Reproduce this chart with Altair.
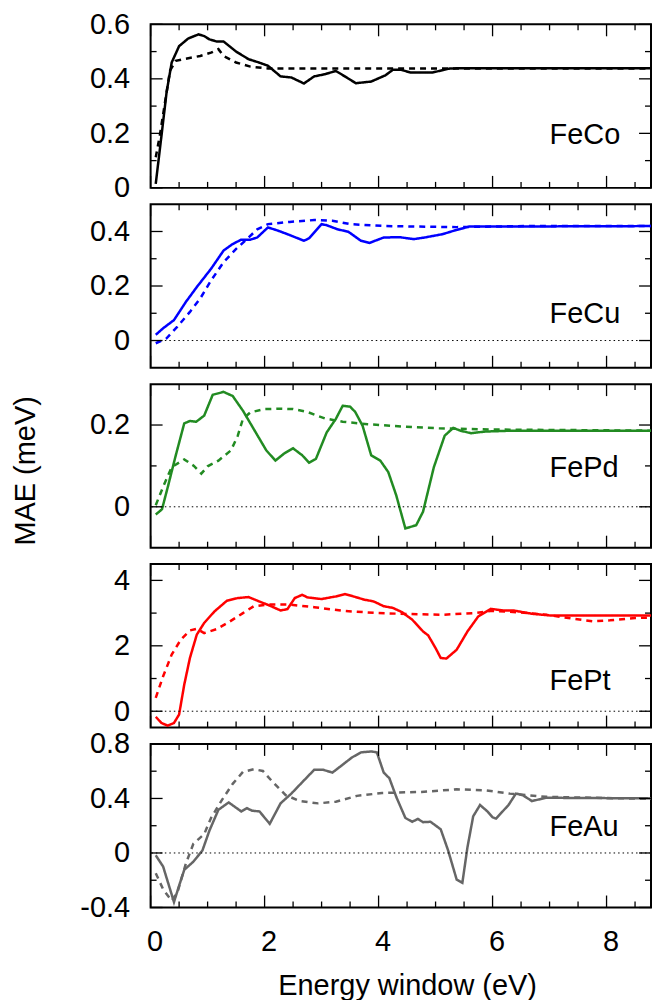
import altair as alt
import pandas as pd

FONT = "Liberation Sans"
FS = 29
PX_PER_EV = 57.15
XMAX = 8.78            # visible part of the 0..9 eV axis that fits the page
W = XMAX * PX_PER_EV
H = 164

# ---------------- data ----------------
x_major = [0, 2, 4, 6, 8]
x_minor = [0.5, 1, 1.5, 2.5, 3, 3.5, 4.5, 5, 5.5, 6.5, 7, 7.5, 8.5]

panel_names = ["FeCo", "FeCu", "FePd", "FePt", "FeAu"]
panel_colors = ["#000000", "#0000ff", "#228b22", "#ff0000", "#666666"]

feco_solid_e = [0.09, 0.19, 0.28, 0.37, 0.5, 0.66, 0.84, 0.94, 1.03, 1.16, 1.28, 1.5, 1.72, 1.9, 2.06,
                2.28, 2.47, 2.69, 2.87, 3.06, 3.25, 3.44, 3.6, 3.87, 4.12, 4.25, 4.4, 4.56, 4.94, 5.25, 5.5, 9.0]
feco_solid_v = [0.015, 0.19, 0.35, 0.46, 0.52, 0.548, 0.563, 0.557, 0.545, 0.537, 0.537, 0.50, 0.472, 0.46, 0.448,
                0.409, 0.405, 0.383, 0.409, 0.417, 0.429, 0.405, 0.384, 0.39, 0.413, 0.433, 0.433, 0.423, 0.423, 0.438, 0.439, 0.439]
feco_dash_e = [0.09, 0.16, 0.25, 0.34, 0.44, 0.62, 0.87, 1.06, 1.19, 1.28, 1.5, 1.75, 2.06, 9.0]
feco_dash_v = [0.112, 0.19, 0.31, 0.43, 0.466, 0.474, 0.484, 0.496, 0.509, 0.484, 0.46, 0.445, 0.438, 0.438]

fecu_solid_e = [0.09, 0.22, 0.41, 0.62, 0.81, 1.06, 1.28, 1.44, 1.59, 1.75, 1.87, 2.06, 2.25, 2.44, 2.69, 2.78,
                3.0, 3.09, 3.28, 3.47, 3.69, 3.84, 4.09, 4.37, 4.62, 4.81, 5.12, 5.37, 5.59, 6.0, 9.0]
fecu_solid_v = [0.021, 0.045, 0.075, 0.142, 0.196, 0.263, 0.33, 0.354, 0.37, 0.37, 0.378, 0.415, 0.402, 0.387, 0.366, 0.375,
                0.427, 0.423, 0.408, 0.399, 0.366, 0.358, 0.378, 0.379, 0.372, 0.378, 0.39, 0.406, 0.418, 0.418, 0.42]
fecu_dash_e = [0.09, 0.28, 0.47, 0.69, 0.87, 1.06, 1.28, 1.5, 1.69, 1.87, 2.06, 2.44, 2.87, 3.19, 3.5, 4.12, 5.37, 6.6, 9.0]
fecu_dash_v = [-0.01, 0.008, 0.051, 0.105, 0.154, 0.22, 0.287, 0.336, 0.372, 0.408, 0.427, 0.435, 0.442, 0.439, 0.427, 0.42, 0.416, 0.42, 0.42]

fepd_solid_e = [0.09, 0.2, 0.31, 0.44, 0.59, 0.69, 0.8, 0.94, 1.09, 1.28, 1.44, 1.62, 1.81, 2.03, 2.19, 2.34, 2.5,
                2.66, 2.78, 2.9, 3.09, 3.25, 3.37, 3.5, 3.59, 3.72, 3.87, 4.03, 4.17, 4.31, 4.47, 4.66, 4.78, 4.97,
                5.16, 5.31, 5.44, 5.62, 5.87, 6.3, 9.0]
fepd_solid_v = [-0.019, -0.006, 0.053, 0.125, 0.204, 0.21, 0.208, 0.223, 0.274, 0.281, 0.271, 0.235, 0.19, 0.138, 0.113, 0.13, 0.143,
                0.126, 0.108, 0.117, 0.182, 0.215, 0.247, 0.245, 0.232, 0.198, 0.126, 0.113, 0.085, 0.028, -0.053, -0.045, -0.012, 0.097,
                0.174, 0.193, 0.186, 0.18, 0.184, 0.186, 0.186]
fepd_dash_e = [0.09, 0.22, 0.37, 0.59, 0.76, 0.89, 1.0, 1.19, 1.41, 1.53, 1.62, 1.75, 2.0, 2.25, 2.5, 2.75, 3.06,
               3.37, 3.81, 4.44, 5.06, 6.0, 9.0]
fepd_dash_v = [0.004, 0.049, 0.097, 0.116, 0.10, 0.081, 0.099, 0.113, 0.138, 0.174, 0.215, 0.231, 0.239, 0.24, 0.239, 0.232, 0.216,
               0.208, 0.202, 0.196, 0.192, 0.189, 0.186]

fept_solid_e = [0.09, 0.19, 0.3, 0.41, 0.5, 0.59, 0.69, 0.81, 0.94, 1.12, 1.34, 1.53, 1.72, 1.9, 2.09, 2.28, 2.4,
                2.53, 2.66, 2.75, 3.0, 3.25, 3.41, 3.56, 3.75, 3.91, 4.09, 4.25, 4.41, 4.59, 4.78, 4.87, 5.0,
                5.09, 5.19, 5.37, 5.56, 5.75, 5.97, 6.19, 6.37, 6.69, 7.0, 9.0]
fept_solid_v = [-0.17, -0.36, -0.44, -0.36, -0.10, 0.81, 1.63, 2.34, 2.70, 3.05, 3.38, 3.46, 3.49, 3.36, 3.23, 3.08, 3.12,
                3.46, 3.56, 3.48, 3.43, 3.51, 3.58, 3.51, 3.41, 3.36, 3.21, 3.16, 3.03, 2.80, 2.44, 2.32, 1.93,
                1.63, 1.61, 1.88, 2.44, 2.90, 3.13, 3.08, 3.08, 2.98, 2.93, 2.93]
fept_dash_e = [0.09, 0.22, 0.37, 0.53, 0.69, 0.81, 0.94, 1.16, 1.37, 1.62, 1.81, 2.06, 2.44, 2.87, 3.37, 4.0, 4.56,
               5.12, 5.69, 6.0, 6.5, 6.94, 7.25, 7.75, 8.06, 8.5, 9.0]
fept_dash_v = [0.41, 1.07, 1.73, 2.19, 2.47, 2.52, 2.39, 2.51, 2.72, 3.00, 3.21, 3.26, 3.26, 3.18, 3.07, 3.00, 2.97,
               2.95, 3.00, 3.07, 3.02, 2.95, 2.87, 2.75, 2.78, 2.85, 2.87]

feau_solid_e = [0.09, 0.22, 0.41, 0.5, 0.59, 0.75, 0.91, 1.03, 1.19, 1.37, 1.59, 1.69, 1.78, 1.91, 2.09, 2.28, 2.47,
                2.66, 2.87, 3.03, 3.19, 3.34, 3.53, 3.69, 3.87, 3.97, 4.09, 4.19, 4.31, 4.47, 4.59, 4.69, 4.78,
                4.91, 5.09, 5.22, 5.37, 5.47, 5.56, 5.66, 5.78, 5.91, 6.0, 6.06, 6.28, 6.41, 6.53, 6.69, 6.94, 9.0]
feau_solid_v = [-0.017, -0.10, -0.36, -0.24, -0.124, -0.064, 0.019, 0.162, 0.317, 0.371, 0.305, 0.329, 0.31, 0.305, 0.214, 0.364, 0.436,
                0.519, 0.61, 0.61, 0.59, 0.638, 0.70, 0.738, 0.745, 0.738, 0.59, 0.548, 0.412, 0.257, 0.229, 0.25, 0.226,
                0.229, 0.174, 0.019, -0.195, -0.219, 0.043, 0.269, 0.352, 0.305, 0.262, 0.252, 0.352, 0.436, 0.424, 0.381, 0.405, 0.40]
feau_dash_e = [0.09, 0.22, 0.37, 0.47, 0.62, 0.75, 0.94, 1.06, 1.25, 1.44, 1.62, 1.81, 1.97, 2.12, 2.37, 2.62, 2.94,
               3.25, 3.62, 4.06, 4.75, 5.37, 5.87, 6.3, 6.94, 9.0]
feau_dash_v = [-0.148, -0.267, -0.35, -0.29, -0.076, 0.067, 0.138, 0.257, 0.388, 0.507, 0.595, 0.614, 0.602, 0.531, 0.424, 0.381, 0.364,
               0.376, 0.419, 0.44, 0.448, 0.467, 0.46, 0.436, 0.412, 0.395]

# y-axis set-up per panel: domain, labelled (major) ticks, minor ticks
y_domains = [[0, 0.6], [-0.1, 0.5], [-0.1, 0.3], [-0.5, 4.5], [-0.4, 0.8]]
y_major = [[0, 0.2, 0.4, 0.6], [0, 0.2, 0.4], [0, 0.2], [0, 2, 4], [-0.4, 0, 0.4, 0.8]]
y_minor = [[0.1, 0.3, 0.5], [0.1, 0.3], [0.1], [1, 3], [-0.2, 0.2, 0.6]]

# panel label anchor (data coords) – placement only
label_x = 7.0
label_y = [0.16, 0.063, 0.073, 0.66, 0.126]

series = [
    (feco_solid_e, feco_solid_v, feco_dash_e, feco_dash_v),
    (fecu_solid_e, fecu_solid_v, fecu_dash_e, fecu_dash_v),
    (fepd_solid_e, fepd_solid_v, fepd_dash_e, fepd_dash_v),
    (fept_solid_e, fept_solid_v, fept_dash_e, fept_dash_v),
    (feau_solid_e, feau_solid_v, feau_dash_e, feau_dash_v),
]

MAJ = 12
MIN = 6
TICK_W = 1.3


def make_panel(i):
    se, sv, de, dv = series[i]
    xs = alt.Scale(domain=[0, XMAX], nice=False, zero=False)
    ys = alt.Scale(domain=y_domains[i], nice=False, zero=False)
    bottom = (i == 4)

    df = pd.DataFrame({
        "e": se + de,
        "v": sv + dv,
        "kind": ["solid"] * len(se) + ["dashed"] * len(de),
    })

    if bottom:
        xaxis = alt.Axis(values=x_major, labelExpr="'' + datum.value", ticks=False, domain=False,
                         grid=False, labelPadding=20, labelOffset=4, labelFlush=False, labelOverlap=False,
                         title="Energy window (eV)", titleBaseline="alphabetic", titleY=87,
                         titleX=4.5 * PX_PER_EV)
    else:
        xaxis = None

    ykw = dict(values=y_major[i], labelExpr="'' + datum.value", ticks=False, domain=False, grid=False,
               labelPadding=21, labelFlush=False, labelOverlap=False)
    if i == 2:
        yaxis = alt.Axis(title="MAE (meV)", titleX=-116.4, titleY=86.5, titleBaseline="alphabetic", **ykw)
    else:
        yaxis = alt.Axis(title=None, **ykw)

    def X(field="e"):
        return alt.X(f"{field}:Q", scale=xs, axis=xaxis)

    def Y(field="v"):
        return alt.Y(f"{field}:Q", scale=ys, axis=yaxis)

    layers = []
    lines = alt.Chart(df).mark_line(strokeWidth=2.5, clip=True, color=panel_colors[i]).encode(
        x=X(), y=Y(),
        strokeDash=alt.StrokeDash("kind:N", scale=alt.Scale(domain=["solid", "dashed"], range=[[1, 0], [6, 5]]),
                                  legend=None),
    )
    layers.append(lines)

    if y_domains[i][0] < 0:
        zero = alt.Chart(pd.DataFrame({"v": [0]})).mark_rule(
            color="black", strokeWidth=1, strokeDash=[1.5, 3]
        ).encode(y=Y())
        layers.append(zero)

    txt = alt.Chart(pd.DataFrame({"e": [label_x], "v": [label_y[i]], "t": [panel_names[i]]})).mark_text(
        align="left", baseline="alphabetic", fontSize=FS, font=FONT, color="black"
    ).encode(x=X(), y=Y(), text="t:N")
    layers.append(txt)

    # inward ticks on all four borders
    for vals, ln in ((x_major, MAJ), (x_minor, MIN)):
        d = pd.DataFrame({"e": vals})
        for y0, y1 in ((H, H - ln), (0, ln)):
            layers.append(alt.Chart(d).mark_rule(color="black", strokeWidth=TICK_W).encode(
                x=X(), y=alt.value(y0), y2=alt.value(y1)))
    for vals, ln in ((y_major[i], MAJ), (y_minor[i], MIN)):
        d = pd.DataFrame({"v": vals})
        for x0, x1 in ((0, ln), (W, W - ln)):
            layers.append(alt.Chart(d).mark_rule(color="black", strokeWidth=TICK_W).encode(
                y=Y(), x=alt.value(x0), x2=alt.value(x1)))

    return alt.layer(*layers).properties(width=W, height=H)


panels = [make_panel(i) for i in range(5)]

chart = alt.vconcat(*panels, spacing=16.4, bounds="flush",
                    padding={"left": 2, "top": 0, "right": 0, "bottom": 0}).resolve_scale(
    y="independent", x="independent"
).configure_view(
    stroke="black", strokeWidth=2
).configure_axis(
    labelFont=FONT, labelFontSize=FS, labelColor="black",
    titleFont=FONT, titleFontSize=FS, titleColor="black", titleFontWeight="normal"
)

chart.save("out.html", embed_options={"renderer": "svg", "actions": False})
